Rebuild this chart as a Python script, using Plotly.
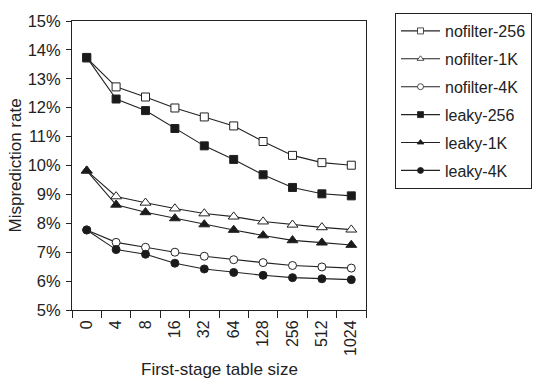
import plotly.graph_objects as go

categories = ["0", "4", "8", "16", "32", "64", "128", "256", "512", "1024"]
nofilter_256 = [13.72, 12.72, 12.37, 11.99, 11.68, 11.37, 10.83, 10.35, 10.10, 10.01]
nofilter_1k = [9.82, 8.93, 8.71, 8.51, 8.34, 8.23, 8.06, 7.95, 7.86, 7.78]
nofilter_4k = [7.77, 7.34, 7.17, 7.00, 6.86, 6.74, 6.64, 6.54, 6.49, 6.45]
leaky_256 = [13.74, 12.30, 11.90, 11.28, 10.68, 10.21, 9.68, 9.24, 9.02, 8.95]
leaky_1k = [9.82, 8.64, 8.38, 8.17, 7.96, 7.77, 7.58, 7.41, 7.33, 7.25]
leaky_4k = [7.77, 7.09, 6.93, 6.62, 6.42, 6.30, 6.20, 6.12, 6.08, 6.05]

series = [
    ("nofilter-256", nofilter_256, "square", "white"),
    ("nofilter-1K", nofilter_1k, "triangle-up", "white"),
    ("nofilter-4K", nofilter_4k, "circle", "white"),
    ("leaky-256", leaky_256, "square", "#1a1a1a"),
    ("leaky-1K", leaky_1k, "triangle-up", "#1a1a1a"),
    ("leaky-4K", leaky_4k, "circle", "#1a1a1a"),
]

INK = "#222222"
fig = go.Figure()
for i, (name, vals, sym, fill) in enumerate(series):
    fig.add_trace(go.Scatter(
        x=categories, y=vals, name=name, mode="lines+markers",
        showlegend=False,
        line=dict(color=INK, width=1.1),
        marker=dict(symbol=sym, size=8 if sym != "triangle-up" else 9.5, color=fill,
                    line=dict(color=INK, width=1)),
    ))
# legend entries (small markers like the reference)
for i, (name, vals, sym, fill) in enumerate(series):
    fig.add_trace(go.Scatter(
        x=[None], y=[None], name=name, mode="lines+markers",
        legendgroup=f"g{i}",
        line=dict(color=INK, width=1.1),
        marker=dict(symbol=sym, size=6, color=fill, line=dict(color=INK, width=0.8)),
    ))

font = "Liberation Sans, Arial, sans-serif"
fig.update_layout(
    width=540, height=383,
    margin=dict(l=72, r=174, t=15, b=73),
    paper_bgcolor="white", plot_bgcolor="white",
    font=dict(family=font, size=16, color=INK),
    showlegend=True,
    legend=dict(
        x=395 / 540, xref="container", xanchor="left",
        y=1 - 13 / 383, yref="container", yanchor="top",
        bordercolor=INK, borderwidth=1,
        font=dict(family=font, size=16, color=INK),
        tracegroupgap=4.1,
        itemwidth=39,
    ),
    xaxis=dict(
        type="category", range=[-0.5, 9.5],
        tickangle=-90, ticks="outside", tickson="boundaries", ticklen=7,
        tickcolor=INK, showline=True, linecolor=INK, mirror=True,
        showgrid=False, zeroline=False, ticklabelstandoff=3,
        tickfont=dict(size=16),
    ),
    yaxis=dict(
        range=[5, 15], dtick=1, ticksuffix="%",
        ticks="outside", ticklen=5, tickcolor=INK,
        showline=True, linecolor=INK, mirror=True,
        showgrid=False, zeroline=False, ticklabelstandoff=2,
        tickfont=dict(size=16.5),
    ),
    annotations=[
        dict(text="First-stage table size", xref="paper", yref="paper",
             x=0.5, y=-(371 - 310) / 295.3, xanchor="center", yanchor="middle",
             showarrow=False, font=dict(size=17, color=INK)),
        dict(text="Misprediction rate", xref="paper", yref="paper",
             x=(15 - 72) / 294, y=0.5, xanchor="center", yanchor="middle",
             textangle=-90, showarrow=False, font=dict(size=17, color=INK)),
    ],
)

fig.write_html("out.html")
